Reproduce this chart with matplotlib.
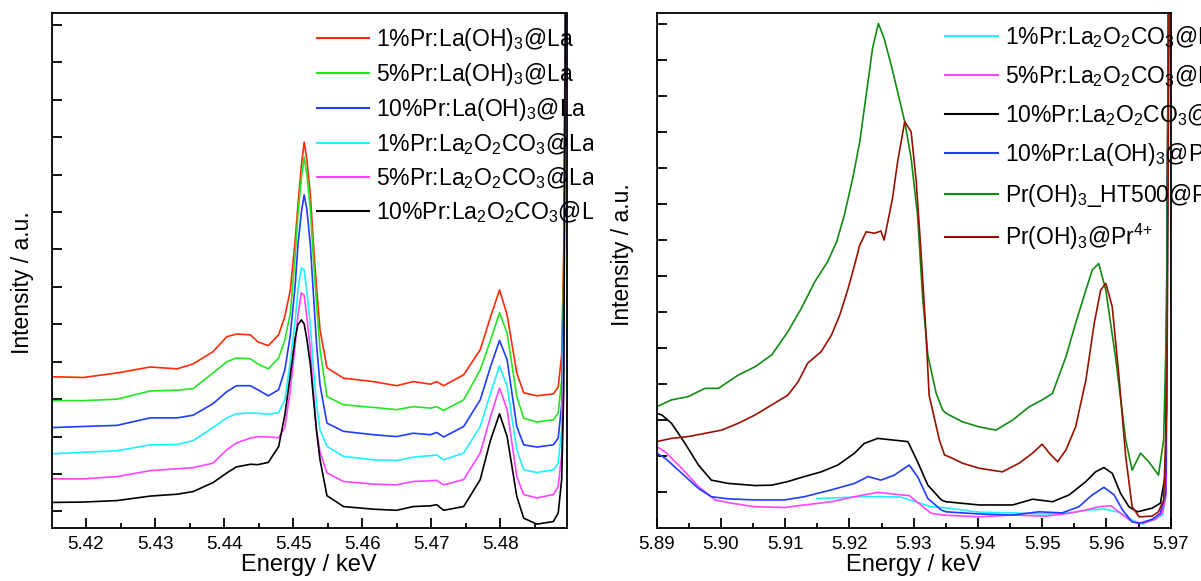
import matplotlib
matplotlib.use('Agg')
import matplotlib.pyplot as plt
from matplotlib.ticker import MultipleLocator, FixedLocator, FormatStrFormatter
from matplotlib.transforms import Bbox, TransformedBbox
from matplotlib.lines import Line2D

plt.rcParams['font.family'] = ['Liberation Sans', 'DejaVu Sans']
plt.rcParams['mathtext.fontset'] = 'custom'
plt.rcParams['mathtext.rm'] = 'Liberation Sans'
plt.rcParams['mathtext.it'] = 'Liberation Sans:italic'
plt.rcParams['mathtext.bf'] = 'Liberation Sans:bold'

# ---------------- left panel: La L-edge region ----------------
energy_left = [5.4150, 5.4196, 5.4245, 5.4293, 5.4332, 5.4355, 5.4384, 5.4404, 5.4418, 5.4438,
               5.4449, 5.4464, 5.4479, 5.4488, 5.4496, 5.4503, 5.4507, 5.4512, 5.4516, 5.4520,
               5.4525, 5.4529, 5.4534, 5.4539, 5.4549, 5.4573, 5.4616, 5.4650, 5.4674, 5.4699,
               5.4708, 5.4718, 5.4747, 5.4771, 5.4786, 5.4799, 5.4810, 5.4824, 5.4834, 5.4853,
               5.4877, 5.4884, 5.4889, 5.4892, 5.4895]

la_oh_1 = [3.60, 3.58, 3.70, 3.86, 3.81, 3.94, 4.27, 4.67, 4.74, 4.72,
           4.53, 4.43, 4.72, 5.21, 5.92, 7.25, 8.19, 9.25, 9.87, 9.39,
           8.46, 7.26, 5.97, 4.85, 3.84, 3.56, 3.47, 3.36, 3.47, 3.40,
           3.47, 3.36, 3.65, 4.32, 5.20, 5.92, 5.25, 3.70, 3.17, 3.09,
           3.14, 3.33, 4.18, 6.99, 16]
la_oh_5 = [2.96, 2.96, 3.00, 3.22, 3.24, 3.28, 3.70, 4.00, 4.10, 4.08,
           3.94, 3.81, 4.10, 4.58, 5.30, 6.85, 7.92, 8.91, 9.47, 8.99,
           8.06, 6.85, 5.52, 4.32, 3.07, 2.85, 2.78, 2.72, 2.80, 2.76,
           2.80, 2.70, 2.98, 3.78, 4.58, 5.31, 4.76, 3.07, 2.49, 2.39,
           2.45, 2.63, 3.52, 6.19, 16]
la_oh_10 = [2.24, 2.27, 2.30, 2.50, 2.50, 2.57, 2.88, 3.20, 3.36, 3.36,
            3.25, 3.09, 3.25, 3.78, 4.72, 6.05, 7.12, 8.00, 8.46, 8.06,
            7.12, 5.92, 4.45, 3.38, 2.36, 2.14, 2.05, 2.00, 2.09, 2.05,
            2.11, 1.99, 2.27, 2.98, 3.87, 4.57, 4.05, 2.27, 1.78, 1.72,
            1.78, 1.96, 2.85, 5.65, 16]
la_co3_1 = [1.54, 1.58, 1.62, 1.78, 1.79, 1.89, 2.24, 2.50, 2.61, 2.63,
            2.62, 2.60, 2.64, 2.98, 4.00, 5.12, 5.92, 6.51, 6.45, 5.87,
            4.98, 3.92, 2.85, 2.18, 1.74, 1.47, 1.38, 1.36, 1.45, 1.49,
            1.51, 1.38, 1.56, 2.27, 3.16, 3.89, 3.34, 1.65, 1.11, 1.04,
            1.11, 1.29, 2.18, 4.85, 16]
la_co3_5 = [0.87, 0.87, 0.93, 1.09, 1.14, 1.17, 1.29, 1.65, 1.83, 1.96,
            2.00, 1.99, 1.97, 2.24, 3.25, 4.45, 5.25, 5.84, 5.78, 5.17,
            4.32, 3.25, 2.18, 1.59, 1.03, 0.80, 0.73, 0.71, 0.80, 0.82,
            0.83, 0.71, 0.85, 1.56, 2.54, 3.30, 2.72, 0.93, 0.45, 0.36,
            0.45, 0.67, 1.51, 4.05, 16]
la_co3_10 = [0.24, 0.25, 0.29, 0.41, 0.46, 0.53, 0.77, 1.03, 1.19, 1.26,
             1.25, 1.31, 1.73, 2.58, 3.65, 4.64, 4.99, 5.12, 5.01, 4.59,
             3.92, 3.12, 2.13, 1.38, 0.42, 0.13, 0.06, 0.03, 0.13, 0.15,
             0.18, 0.03, 0.13, 0.85, 1.91, 2.61, 2.00, 0.40, -0.18, -0.34,
             -0.27, -0.04, 0.85, 3.25, 16]

labels_left = [r'1%Pr:La(OH)$_\mathregular{3}$@La',
               r'5%Pr:La(OH)$_\mathregular{3}$@La',
               r'10%Pr:La(OH)$_\mathregular{3}$@La',
               r'1%Pr:La$_\mathregular{2}$O$_\mathregular{2}$CO$_\mathregular{3}$@La',
               r'5%Pr:La$_\mathregular{2}$O$_\mathregular{2}$CO$_\mathregular{3}$@La',
               r'10%Pr:La$_\mathregular{2}$O$_\mathregular{2}$CO$_\mathregular{3}$@La']
colors_left = ['#ff2a0a', '#22e622', '#1f3cff', '#1ff0ff', '#ff44ff', '#000000']

# ---------------- right panel: Pr L-edge region ----------------
e_co3_1 = [5.9149, 5.9182, 5.9218, 5.9249, 5.9280, 5.9306, 5.9327, 5.9350, 5.9402, 5.9454,
           5.9506, 5.9542, 5.9573, 5.9596, 5.9619, 5.9640, 5.9656, 5.9676, 5.9687, 5.9693, 5.9697]
pr_co3_1 = [-0.18, -0.16, -0.13, -0.13, -0.14, -0.29, -0.41, -0.44, -0.56, -0.58,
            -0.61, -0.58, -0.50, -0.47, -0.56, -0.78, -0.89, -0.75, -0.64, -0.08, 15]

e_co3_5 = [5.8900, 5.8913, 5.8939, 5.8965, 5.8991, 5.9016, 5.9053, 5.9099, 5.9130, 5.9172,
           5.9208, 5.9244, 5.9270, 5.9293, 5.9311, 5.9327, 5.9345, 5.9402, 5.9454, 5.9506,
           5.9542, 5.9568, 5.9588, 5.9607, 5.9622, 5.9640, 5.9656, 5.9676, 5.9687, 5.9693, 5.9697]
pr_co3_5 = [1.26, 1.12, 0.66, 0.15, -0.22, -0.31, -0.41, -0.43, -0.36, -0.27,
            -0.13, -0.01, -0.06, -0.10, -0.36, -0.59, -0.64, -0.69, -0.64, -0.67,
            -0.59, -0.50, -0.41, -0.38, -0.59, -0.83, -0.87, -0.76, -0.59, -0.04, 15]

e_co3_10 = [5.8900, 5.8908, 5.8923, 5.8939, 5.8949, 5.8965, 5.8985, 5.9011, 5.9053, 5.9079,
            5.9104, 5.9130, 5.9156, 5.9182, 5.9208, 5.9223, 5.9244, 5.9270, 5.9291, 5.9306,
            5.9322, 5.9343, 5.9350, 5.9402, 5.9454, 5.9485, 5.9516, 5.9542, 5.9568, 5.9583,
            5.9596, 5.9609, 5.9622, 5.9635, 5.9648, 5.9671, 5.9684, 5.9692, 5.9697]
pr_co3_10 = [2.19, 2.14, 1.91, 1.49, 1.21, 0.75, 0.33, 0.24, 0.18, 0.19,
             0.29, 0.43, 0.56, 0.75, 1.08, 1.35, 1.49, 1.44, 1.40, 0.84,
             0.19, -0.22, -0.27, -0.36, -0.36, -0.20, -0.27, -0.08, 0.29, 0.56,
             0.68, 0.52, -0.04, -0.41, -0.55, -0.45, -0.31, 0.52, 15]

e_oh_10 = [5.8900, 5.8913, 5.8939, 5.8965, 5.8985, 5.9011, 5.9053, 5.9099, 5.9130, 5.9172,
           5.9208, 5.9229, 5.9249, 5.9270, 5.9293, 5.9306, 5.9322, 5.9343, 5.9350, 5.9402,
           5.9454, 5.9495, 5.9531, 5.9557, 5.9578, 5.9596, 5.9612, 5.9625, 5.9640, 5.9651,
           5.9671, 5.9684, 5.9692, 5.9697]
pr_oh_10 = [1.08, 0.94, 0.52, 0.10, -0.13, -0.19, -0.22, -0.22, -0.13, 0.06,
            0.24, 0.43, 0.33, 0.47, 0.75, 0.43, -0.18, -0.50, -0.55, -0.61,
            -0.64, -0.55, -0.58, -0.41, -0.08, 0.13, -0.08, -0.50, -0.83, -0.87,
            -0.76, -0.59, -0.04, 15]

e_ht500 = [5.8900, 5.8923, 5.8949, 5.8975, 5.8996, 5.9027, 5.9053, 5.9079, 5.9104, 5.9125,
           5.9146, 5.9166, 5.9180, 5.9192, 5.9205, 5.9216, 5.9226, 5.9236, 5.9245, 5.9254,
           5.9265, 5.9275, 5.9286, 5.9296, 5.9306, 5.9314, 5.9322, 5.9335, 5.9345, 5.9350,
           5.9376, 5.9402, 5.9428, 5.9454, 5.9480, 5.9500, 5.9516, 5.9537, 5.9552, 5.9568,
           5.9578, 5.9588, 5.9599, 5.9614, 5.9630, 5.9640, 5.9653, 5.9666, 5.9681, 5.9689,
           5.9694, 5.9697]
pr_ht500 = [2.37, 2.56, 2.65, 2.88, 2.88, 3.25, 3.48, 3.81, 4.45, 5.10,
            5.84, 6.40, 6.95, 7.69, 8.71, 9.73, 11.03, 12.33, 13.02, 12.60,
            11.86, 11.12, 10.29, 9.27, 7.69, 5.38, 3.81, 2.74, 2.28, 2.19,
            1.95, 1.81, 1.72, 2.00, 2.37, 2.56, 2.74, 3.76, 4.69, 5.61,
            6.17, 6.35, 5.61, 3.76, 1.44, 0.61, 1.08, 0.84, 0.47, 1.44,
            5.15, 15]

e_pr4 = [5.8900, 5.8923, 5.8949, 5.8975, 5.9001, 5.9027, 5.9053, 5.9079, 5.9104, 5.9120,
         5.9135, 5.9156, 5.9172, 5.9185, 5.9198, 5.9208, 5.9216, 5.9226, 5.9239, 5.9249,
         5.9254, 5.9267, 5.9275, 5.9286, 5.9296, 5.9304, 5.9311, 5.9319, 5.9324, 5.9340,
         5.9348, 5.9355, 5.9376, 5.9402, 5.9438, 5.9464, 5.9485, 5.9500, 5.9511, 5.9524,
         5.9537, 5.9552, 5.9568, 5.9581, 5.9591, 5.9599, 5.9609, 5.9619, 5.9630, 5.9640,
         5.9651, 5.9671, 5.9681, 5.9689, 5.9694, 5.9698]
pr_pr4 = [1.40, 1.49, 1.54, 1.63, 1.72, 1.91, 2.14, 2.42, 2.69, 3.06,
          3.58, 3.90, 4.36, 4.92, 5.66, 6.31, 6.86, 7.23, 7.19, 7.25,
          7.00, 8.16, 9.18, 10.29, 10.01, 8.62, 6.77, 4.45, 2.69, 1.44,
          1.03, 0.98, 0.80, 0.66, 0.56, 0.80, 1.08, 1.33, 1.08, 0.84,
          1.17, 1.81, 3.11, 4.69, 5.61, 5.80, 5.15, 3.30, 0.98, -0.41,
          -0.69, -0.67, -0.55, -0.22, 2.37, 15]

labels_right = [r'1%Pr:La$_\mathregular{2}$O$_\mathregular{2}$CO$_\mathregular{3}$@Pr',
                r'5%Pr:La$_\mathregular{2}$O$_\mathregular{2}$CO$_\mathregular{3}$@Pr',
                r'10%Pr:La$_\mathregular{2}$O$_\mathregular{2}$CO$_\mathregular{3}$@Pr',
                r'10%Pr:La(OH)$_\mathregular{3}$@Pr',
                r'Pr(OH)$_\mathregular{3}$_HT500@Pr',
                r'Pr(OH)$_\mathregular{3}$@Pr$^\mathregular{4{+}}$']
colors_right = ['#1ff0ff', '#ff44ff', '#000000', '#1f3cff', '#118a11', '#9a1000']

W, H = 1201, 581
fig = plt.figure(figsize=(W / 100, H / 100), dpi=100)
axL = fig.add_axes([51.7 / W, 53 / H, 514.8 / W, 515 / H])
axR = fig.add_axes([656.7 / W, 53 / H, 514.0 / W, 515 / H])

left_series = [la_oh_1, la_oh_5, la_oh_10, la_co3_1, la_co3_5, la_co3_10]
for ys, c in zip(left_series, colors_left):
    axL.plot(energy_left, ys, color=c, lw=1.2)

right_series = [(e_co3_1, pr_co3_1), (e_co3_5, pr_co3_5), (e_co3_10, pr_co3_10),
                (e_oh_10, pr_oh_10), (e_ht500, pr_ht500), (e_pr4, pr_pr4)]
for (xs, ys), c in zip(right_series, colors_right):
    axR.plot(xs, ys, color=c, lw=1.2)

axL.set_xlim(5.41503, 5.4896)
axL.set_ylim(-0.443, 13.32)
axR.set_xlim(5.89, 5.97)
axR.set_ylim(-1.0, 13.31)

for ax in (axL, axR):
    ax.xaxis.set_major_locator(MultipleLocator(0.01))
    ax.xaxis.set_minor_locator(MultipleLocator(0.005))
    ax.xaxis.set_major_formatter(FormatStrFormatter('%.2f'))
    ax.yaxis.set_major_locator(FixedLocator(range(0, 14)))
    ax.tick_params(which='both', direction='in', top=False, right=False, width=1.3)
    ax.tick_params(axis='x', which='major', length=7, labelsize=13.5, pad=6)
    ax.tick_params(axis='x', which='minor', length=3.5)
    ax.tick_params(axis='y', which='major', length=7, labelleft=False)
    for s in ax.spines.values():
        s.set_linewidth(1.3)
    ax.set_xlabel('Energy / keV', fontsize=17)
    ax.set_ylabel('Intensity / a.u.', fontsize=16.5)
    ax.xaxis.set_label_coords(0.5, -0.051)

axL.yaxis.set_label_coords(-0.034, 0.476)
axR.yaxis.set_label_coords(-0.044, 0.530)

hL = [Line2D([], [], color=c, lw=1.5) for c in colors_left]
legL = axL.legend(hL, labels_left, loc='upper left', bbox_to_anchor=(316.7 / W, 1 - 26 / H),
                  bbox_transform=fig.transFigure, frameon=False, fontsize=16.5,
                  handlelength=2.3, handletextpad=0.3, labelspacing=0.35,
                  borderpad=0, borderaxespad=0)
clip = TransformedBbox(Bbox([[0, 0], [593 / W, 1]]), fig.transFigure)
for t in legL.get_texts():
    t.set_clip_box(clip)
    t.set_clip_on(True)

hR = [Line2D([], [], color=c, lw=1.5) for c in colors_right]
axR.legend(hR, labels_right, loc='upper left', bbox_to_anchor=(945 / W, 1 - 24 / H),
           bbox_transform=fig.transFigure, frameon=False, fontsize=16.5,
           handlelength=2.3, handletextpad=0.3, labelspacing=0.58,
           borderpad=0, borderaxespad=0)

fig.savefig('out.png', dpi=100)
